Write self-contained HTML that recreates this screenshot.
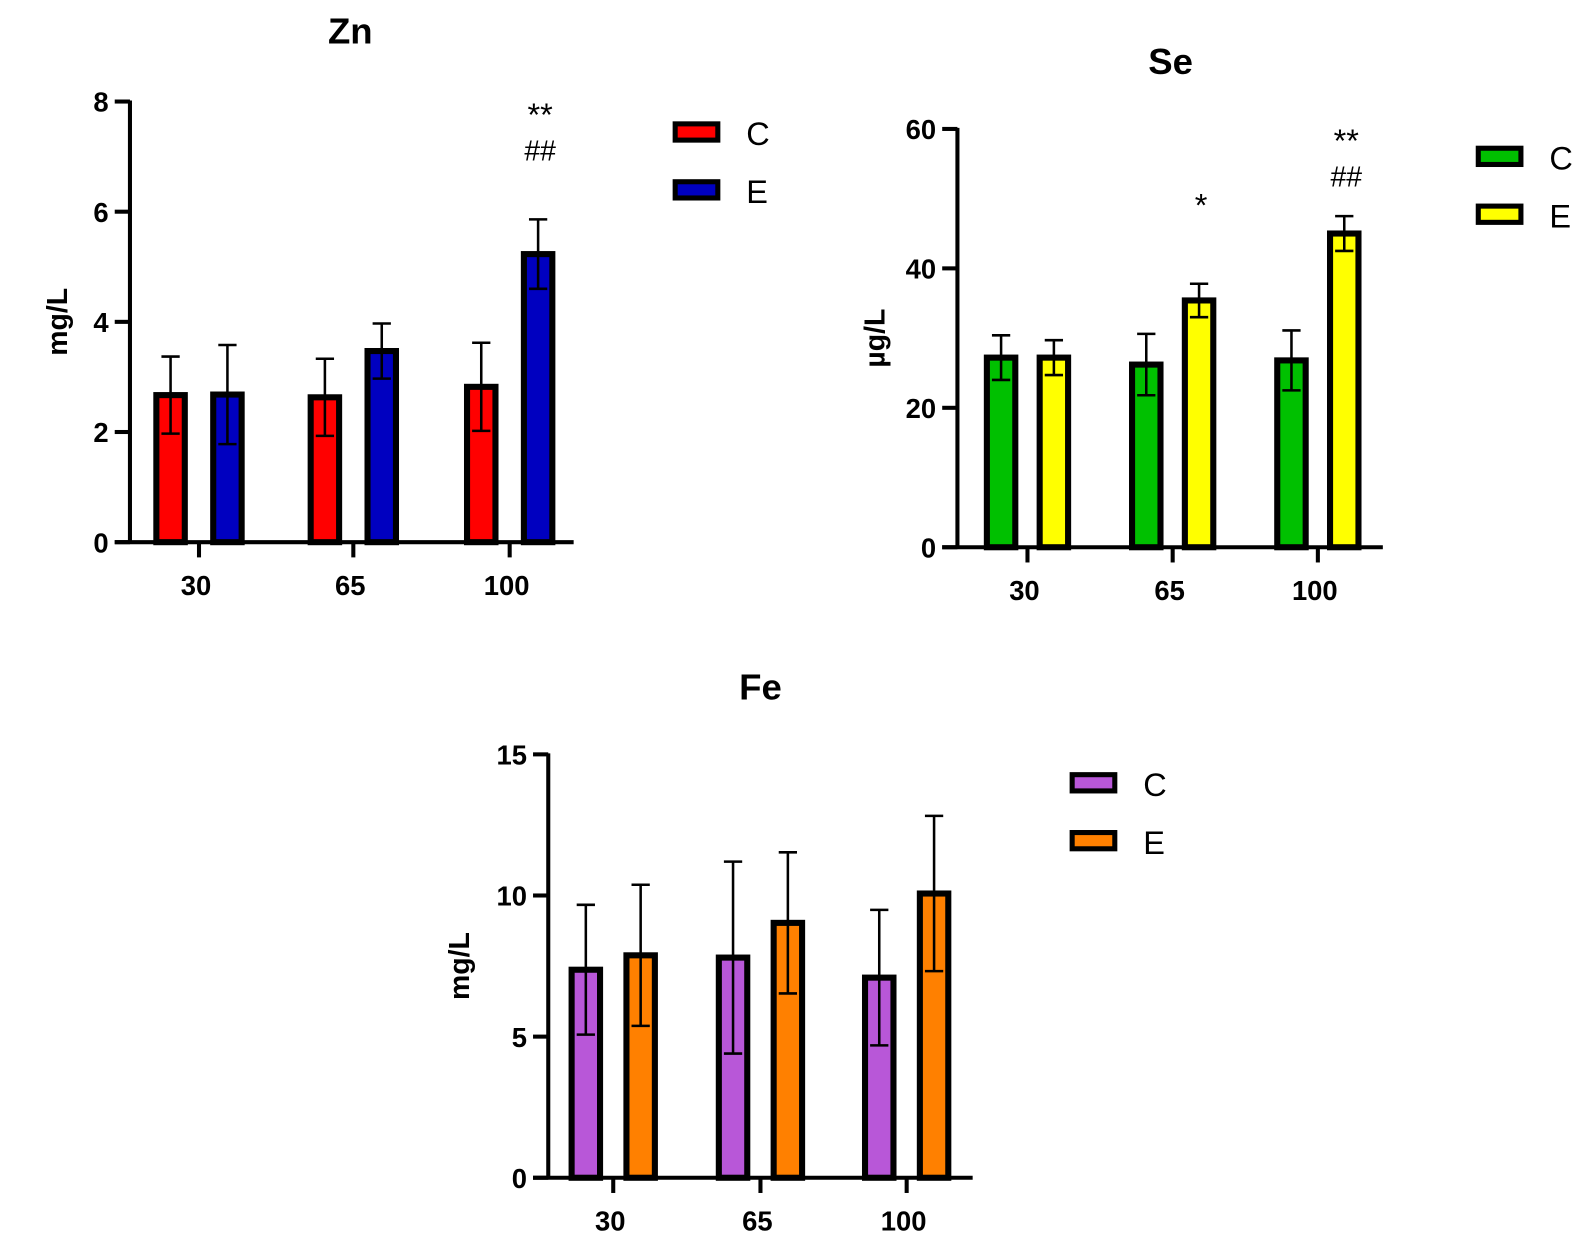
<!DOCTYPE html>
<html><head><meta charset="utf-8"><style>
body{margin:0;background:#fff;}
svg{display:block;font-family:"Liberation Sans",Arial,sans-serif;}
</style></head><body>
<svg id="svg" width="1590" height="1250" xmlns="http://www.w3.org/2000/svg"><g id="root" transform="scale(1.0153)"></g></svg>
<script>
const categories = ["30","65","100"];
const znC = [2.67, 2.63, 2.82];
const znE = [2.68, 3.47, 5.23];
const znCErr = [0.7, 0.7, 0.8];
const znEErr = [0.9, 0.5, 0.63];
const znTicks = [0,2,4,6,8];
const seC = [27.2, 26.2, 26.8];
const seE = [27.2, 35.4, 45.0];
const seCErr = [3.2, 4.4, 4.3];
const seEErr = [2.5, 2.4, 2.5];
const seTicks = [0,20,40,60];
const feC = [7.37, 7.8, 7.09];
const feE = [7.88, 9.03, 10.07];
const feCErr = [2.3, 3.4, 2.4];
const feEErr = [2.5, 2.5, 2.75];
const feTicks = [0,5,10,15];
const znMarks = [null, null, ["**","##"]];
const seMarks = [null, ["*"], ["**","##"]];

const NS="http://www.w3.org/2000/svg";
const root=document.getElementById('root');
function mk(tag,attrs,parent,text){const e=document.createElementNS(NS,tag);for(const k in attrs)e.setAttribute(k,attrs[k]);if(text!==undefined)e.textContent=text;(parent||root).appendChild(e);return e;}

function chart(cfg){
  const g=mk('g',{});
  
  
  const y=v=>cfg.y0-(v/cfg.max)*(cfg.y0-cfg.yTop);
  const t=mk('text',{x:cfg.titleX,y:cfg.titleY,'font-size':36,'font-weight':'bold','text-anchor':'middle'},g,cfg.title);
  
  
  const yl=mk('text',{transform:`translate(${cfg.ylabX},${(cfg.y0+cfg.yTop)/2}) rotate(-90)`,'font-size':28,'font-weight':'bold','text-anchor':'middle'},g,cfg.ylabel);
  
  
  cfg.cVals.forEach((v,i)=>{
    [[v,cfg.cErr[i],cfg.cCol,-cfg.off,'c'],[cfg.eVals[i],cfg.eErr[i],cfg.eCol,cfg.off,'e']].forEach(([val,err,col,o,s])=>{
      const cx=cfg.ticksX[i]+o;
      const r=mk('rect',{x:cx-14,y:y(val),width:28,height:cfg.y0-y(val),fill:col,stroke:'#000','stroke-width':6},g);
      
      
      const eb=mk('path',{d:`M${cx},${y(val-err)}V${y(val+err)}M${cx-9},${y(val+err)}H${cx+9}M${cx-9},${y(val-err)}H${cx+9}`,stroke:'#000','stroke-width':2.5,fill:'none'},g);
      
      
    });
    const m=cfg.marks&&cfg.marks[i];
    if(m){
      const cx=cfg.ticksX[i]+cfg.off;
      const top=y(cfg.eVals[i]+cfg.eErr[i]);
      const gap=m.length>1?cfg.markGap2:cfg.markGap1;
      m.slice().reverse().forEach((s,k)=>{
        const fs=s[0]==='*'?32:28;
        const tt=mk('text',{x:cx+2,y:top-gap-k*44+(s[0]==='*'?10:0),'font-size':fs,'text-anchor':'middle'},g,s);
        
        
      });
    }
  });
  const ax=mk('path',{d:`M${cfg.axX},${cfg.yTop-1}V${cfg.y0}M${cfg.axX-15},${cfg.y0}H${cfg.axEnd}`,stroke:'#000','stroke-width':4,fill:'none'},g);
  
  
  cfg.ticks.forEach(tv=>{
    mk('line',{x1:cfg.axX-15,x2:cfg.axX,y1:y(tv),y2:y(tv),stroke:'#000','stroke-width':4},g);
    const l=mk('text',{x:cfg.axX-21,y:y(tv)+10,'font-size':27,'font-weight':'bold','text-anchor':'end'},g,tv);
    
    
  });
  categories.forEach((c,i)=>{
    mk('line',{x1:cfg.ticksX[i],x2:cfg.ticksX[i],y1:cfg.y0,y2:cfg.y0+15,stroke:'#000','stroke-width':4},g);
    const l=mk('text',{x:cfg.ticksX[i]-3,y:cfg.y0+52,'font-size':27,'font-weight':'bold','text-anchor':'middle'},g,c);
    
    
  });
  [['C',cfg.cCol,0],['E',cfg.eCol,1]].forEach(([lab,col,k])=>{
    const yy=cfg.legY+k*57;
    const lb=mk('rect',{x:cfg.legX,y:yy,width:42,height:16,fill:col,stroke:'#000','stroke-width':5},g);
    
    
    const lt=mk('text',{x:cfg.legX+70,y:yy+21,'font-size':32},g,lab);
    
    
  });
}
chart({name:'zn',title:'Zn',titleX:345,titleY:43,ylabel:'mg/L',ylabX:66,axX:128,axEnd:565,y0:534,yTop:100,max:8,ticks:znTicks,
  ticksX:[196,348,502],off:28,cVals:znC,eVals:znE,cErr:znCErr,eErr:znEErr,cCol:'#ff0000',eCol:'#0000c0',marks:znMarks,markGap1:60,markGap2:58,legX:665,legY:122});
chart({name:'se',title:'Se',titleX:1153,titleY:73,ylabel:'µg/L',ylabX:871,axX:943,axEnd:1362,y0:539,yTop:127,max:60,ticks:seTicks,
  ticksX:[1012,1155,1298],off:26,cVals:seC,eVals:seE,cErr:seCErr,eErr:seEErr,cCol:'#00c000',eCol:'#ffff00',marks:seMarks,markGap1:76,markGap2:29,legX:1456,legY:146});
chart({name:'fe',title:'Fe',titleX:749,titleY:689,ylabel:'mg/L',ylabX:462,axX:540,axEnd:958,y0:1160,yTop:743,max:15,ticks:feTicks,
  ticksX:[604,749,893],off:27,cVals:feC,eVals:feE,cErr:feCErr,eErr:feEErr,cCol:'#b857d8',eCol:'#ff8000',marks:null,markGap1:0,markGap2:0,legX:1056,legY:763});
</script>
</body></html>
